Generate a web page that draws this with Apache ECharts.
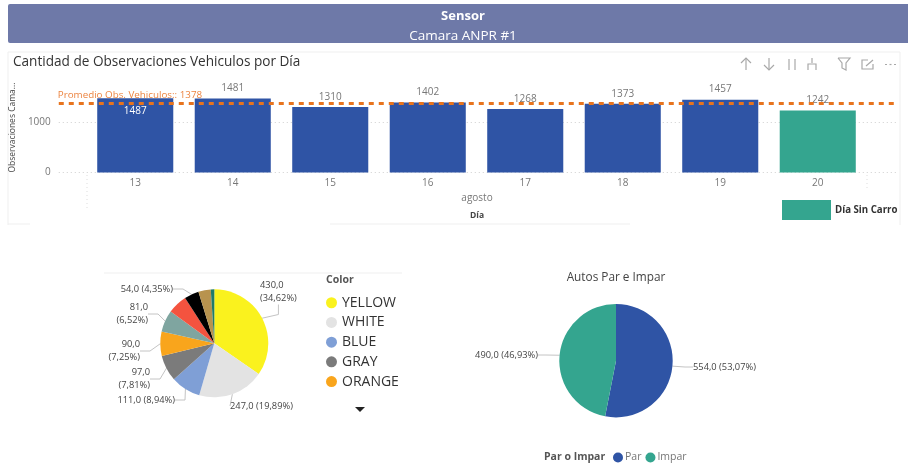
<!DOCTYPE html>
<html><head><meta charset="utf-8">
<style>html,body{margin:0;padding:0;background:#fff}#c{width:908px;height:465px}</style>
<script src="https://cdn.jsdelivr.net/npm/echarts@6/dist/echarts.min.js"></script>
</head><body><div id="c"></div>
<script>
const days = ['13','14','15','16','17','18','19','20'];
const regularDays = [1487,1481,1310,1402,1268,1373,1457,null];
const carFreeDay = [null,null,null,null,null,null,null,1242];
const averageValue = 1378;
const colorNames = ['YELLOW','WHITE','BLUE','GRAY','ORANGE','GREEN','RED','BLACK','BROWN','TEAL'];
const colorValues = [430,247,111,97,90,81,73,54,46,13];
const colorSwatches = ['#FAF21E','#E3E3E3','#7F9FD6','#7B7B7B','#F9A51C','#7FA5A0','#F4533F','#000000','#B8934E','#1F7A6B'];
const parityNames = ['Par','Impar'];
const parityValues = [554,490];
const NAVY='#2F54A5', GREEN='#34A58F';
const FONT='"Open Sans", sans-serif';
const comma = v => v.toFixed(1).replace('.',',');
const share = (v,list) => (v/list.reduce((a,b)=>a+b,0)*100).toFixed(2).replace('.',',')+'%';
const oneLine = new Set([1,2,7]);
const unlabeled = new Set([6,8,9]);
const colorLabelPos = {
 0:[260,292,'left'],1:[230,406,'left'],2:[175,400,'right'],3:[150,379,'right'],
 4:[140,351,'right'],5:[148,314,'right'],7:[173,289,'right']};
const parityLabelPos = {0:[693,367,'left'],1:[538,355,'right']};
const txt = (text,left,top,size,color,weight,center) => ({text,left,top,padding:0,textAlign:center?'center':'left',
  textStyle:{fontFamily:FONT,fontSize:size,color,fontWeight:weight||'normal'}});
const dotted = (x,y1,y2)=>({type:'line',silent:true,shape:{x1:x,y1,x2:x,y2},style:{stroke:'#ddd',lineWidth:1,lineDash:[1,3]}});
const frame = (x1,y1,x2,y2)=>({type:'line',silent:true,shape:{x1,y1,x2,y2},style:{stroke:'#efefef',lineWidth:1}});
const icon = (pts)=>({type:'polyline',silent:true,shape:{points:pts},style:{stroke:'#a8a8a8',lineWidth:1.2,fill:null}});

const chart = echarts.init(document.getElementById('c'));
chart.setOption({
 animation:false,
 backgroundColor:'#fff',
 title:[
  txt('Sensor',463,10,13,'#fff','bold',true),
  txt('Camara ANPR #1',463,29,13.5,'#fff','normal',true),
  txt('Cantidad de Observaciones Vehiculos por Día',13,55,13.6,'#333','500'),
  txt('agosto',477,193,10,'#777','normal',true),
  txt('Día',477,211,8.5,'#444','bold',true),
  txt('Color',326,275,10.5,'#555','bold'),
  txt('Autos Par e Impar',616,272,11.8,'#444','normal',true),
  txt('Par o Impar',544,452,10.5,'#555','bold')
 ],
 grid:[
  {left:57,right:11,top:82.5,bottom:292.5},
  {left:86.5,right:41.5,top:82.5,bottom:292.5}
 ],
 xAxis:[
  {type:'category',gridIndex:1,data:days,axisLine:{show:false},axisTick:{show:false},
   axisLabel:{fontFamily:FONT,fontSize:10,color:'#777',margin:6}},
  {type:'value',gridIndex:0,min:0,max:1,show:false}
 ],
 yAxis:[
  {type:'value',gridIndex:0,min:0,max:1800,interval:1000,name:'Observaciones Cama...',nameLocation:'middle',nameGap:32,
   nameTextStyle:{fontFamily:FONT,fontSize:8.5,color:'#444',fontWeight:'500'},
   axisLine:{show:false},axisTick:{show:false},
   axisLabel:{fontFamily:FONT,fontSize:10,color:'#777',margin:8,showMaxLabel:false,formatter:v=>String(v)},
   splitLine:{show:true,showMaxLine:false,lineStyle:{type:[1,3],color:'#cfcfcf'}}},
  {type:'value',gridIndex:1,min:0,max:1800,show:false}
 ],
 legend:[
  {data:['Día Sin Carro'],left:782,top:200,itemWidth:49,itemHeight:20,icon:'rect',itemGap:0,selectedMode:false,
   textStyle:{fontFamily:FONT,fontSize:9.7,fontWeight:'bold',color:'#333',padding:[0,0,0,-1]},padding:0},
  {data:colorNames.slice(0,5),orient:'vertical',left:326,top:294,icon:'circle',itemWidth:11,itemHeight:11,itemGap:2.2,selectedMode:false,padding:0,
   textStyle:{fontFamily:FONT,fontSize:14,color:'#333',height:14.5,lineHeight:14.5,padding:[3,0,0,0]}},
  {data:parityNames,left:613,top:452,icon:'circle',itemWidth:10,itemHeight:10,itemGap:4,selectedMode:false,padding:0,
   textStyle:{fontFamily:FONT,fontSize:10.5,color:'#777',padding:[0,0,0,-3]}}
 ],
 series:[
  {name:'Observaciones',type:'bar',xAxisIndex:0,yAxisIndex:1,stack:'obs',barWidth:'78%',z:2,
   itemStyle:{color:NAVY},
   data:regularDays.map((v,i)=> i===0 ? {value:v,label:{position:'insideTop',color:'#fff',distance:8}} : v),
   label:{show:true,position:'top',distance:5,fontFamily:FONT,fontSize:10,color:'#777'}},
  {name:'Día Sin Carro',type:'bar',xAxisIndex:0,yAxisIndex:1,stack:'obs',barWidth:'78%',z:2,
   itemStyle:{color:GREEN},data:carFreeDay,
   label:{show:true,position:'top',distance:5,fontFamily:FONT,fontSize:10,color:'#777'}},
  {name:'Promedio',type:'line',xAxisIndex:1,yAxisIndex:0,z:5,symbol:'circle',symbolSize:0.1,showAllSymbol:true,silent:true,
   lineStyle:{color:'#E8741E',width:3,type:[5,5]},
   data:[{value:[0,averageValue],label:{show:true,position:'top',align:'left',distance:3,offset:[-1,0],
     formatter:'Promedio Obs. Vehiculos:: '+averageValue,fontFamily:FONT,fontSize:9.8,color:'#EC8440'}},
     {value:[1,averageValue],label:{show:false}}]},
  {name:'Color',type:'pie',center:[214.3,343.3],radius:[0,54],startAngle:90,clockwise:true,
   data:colorNames.map((name,i)=>({name,value:colorValues[i],itemStyle:{color:colorSwatches[i]},
     label:{show:!unlabeled.has(i)},labelLine:{show:!unlabeled.has(i)}})),
   label:{fontFamily:FONT,fontSize:9.3,color:'#444',lineHeight:12.5,
     formatter:p=> comma(p.value)+(oneLine.has(p.dataIndex)?' ':'\n')+'('+share(p.value,colorValues)+')'},
   labelLine:{length:8,length2:10,lineStyle:{color:'#c4c4c4',width:1}},
   labelLayout:p=>{const s=colorLabelPos[p.dataIndex];return s?{x:s[0],y:s[1],align:s[2],verticalAlign:'middle'}:{};}},
  {name:'Par o Impar',type:'pie',center:[616,360.7],radius:[0,56.7],startAngle:90,clockwise:true,
   data:parityNames.map((name,i)=>({name,value:parityValues[i],itemStyle:{color:i?GREEN:NAVY}})),
   label:{fontFamily:FONT,fontSize:9.3,color:'#444',formatter:p=>comma(p.value)+' ('+share(p.value,parityValues)+')'},
   labelLine:{length:8,length2:8,lineStyle:{color:'#c4c4c4',width:1}},
   labelLayout:p=>{const s=parityLabelPos[p.dataIndex];return {x:s[0],y:s[1],align:s[2],verticalAlign:'middle'};}}
 ],
 graphic:{elements:[
  {type:'rect',z:-1,silent:true,shape:{x:8,y:4,width:900,height:39,r:[2,0,0,2]},style:{fill:'#6E79A8'}},
  frame(8,52,900,52),frame(8,52,8,225),frame(900,52,900,225),frame(8,224,30,224),frame(330,224,630,224),
  frame(104,273,402,273),
  dotted(87,175,208),dotted(867,175,190),
  {type:'polygon',silent:true,shape:{points:[[355,407],[365,407],[360,412]]},style:{fill:'#222'}},
  icon([[746,70],[746,58]]),icon([[741,63],[746,58],[751,63]]),
  icon([[769,58],[769,70]]),icon([[764,65],[769,70],[774,65]]),
  icon([[789,59],[789,70]]),icon([[795,59],[795,70]]),
  icon([[812,58],[812,63]]),icon([[808,70],[808,64],[816,64],[816,70]]),
  icon([[838,58],[850,58],[846,63],[846,70],[842,68],[842,63],[838,58]]),
  icon([[868,60],[862,60],[862,69],[873,69],[873,64]]),icon([[866,66],[873,60]]),
  icon([[885,64.5],[887,64.5]]),icon([[889.5,64.5],[891.5,64.5]]),icon([[894,64.5],[896,64.5]])
 ]}
});
</script></body></html>
